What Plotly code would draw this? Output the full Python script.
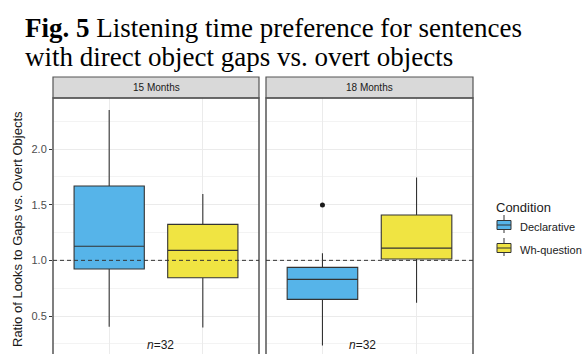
import plotly.graph_objects as go

# ---- data ----
panels = ["15 Months", "18 Months"]
conditions = ["Declarative", "Wh-question"]
colors = ["#56B4E9", "#F0E442"]
# stats per panel per condition
lowerfence = [[0.404, 0.398], [0.236, 0.619]]
q1 = [[0.922, 0.844], [0.650, 1.012]]
median = [[1.126, 1.090], [0.829, 1.110]]
q3 = [[1.668, 1.323], [0.937, 1.407]]
upperfence = [[2.350, 1.596], [1.063, 1.745]]
outlier_panel = [1]
outlier_cond = [0]
outlier_y = [1.497]
n_labels = ["n=32", "n=32"]
n_x = [1.55, 1.43]
n_y = [0.24, 0.24]
yticks = [0.5, 1.0, 1.5, 2.0]

W, H = 582, 354
OFF = 0  # body margin removed via post_script
px = lambda v: (v - OFF) / W
py = lambda v: (H - (v - OFF)) / H

x_domains = [(53, 259), (266, 473)]
plot_top, plot_bot = 98, 354
strip_top = 77
yrange = [0.159, 2.458]
BOX_LINE = "#333333"

fig = go.Figure()
for p in range(2):
    xa = "x" if p == 0 else "x2"
    ya = "y" if p == 0 else "y2"
    for c in range(2):
        fig.add_trace(go.Box(
            x=[c + 1], q1=[q1[p][c]], median=[median[p][c]], q3=[q3[p][c]],
            lowerfence=[lowerfence[p][c]], upperfence=[upperfence[p][c]],
            width=0.75, fillcolor=colors[c], line=dict(color=BOX_LINE, width=1.1),
            whiskerwidth=0, boxpoints=False, name=conditions[c],
            showlegend=False, xaxis=xa, yaxis=ya, hoverinfo="skip",
        ))
for i in range(len(outlier_y)):
    p = outlier_panel[i]
    fig.add_trace(go.Scatter(
        x=[outlier_cond[i] + 1], y=[outlier_y[i]], mode="markers",
        marker=dict(color="#1A1A1A", size=5), showlegend=False, hoverinfo="skip",
        xaxis="x" if p == 0 else "x2", yaxis="y" if p == 0 else "y2"))

ydom = [py(plot_bot), py(plot_top)]
common_x = dict(range=[0.4, 2.6], tickvals=[1, 2], showticklabels=False, ticks="",
                showgrid=True, gridcolor="#EBEBEB", gridwidth=1, zeroline=False,
                showline=False)
common_y = dict(range=yrange, showgrid=True, gridcolor="#EBEBEB", gridwidth=1,
                zeroline=False, showline=False,
                minor=dict(dtick=0.25, tick0=0.25, showgrid=True, gridcolor="#F3F3F3", gridwidth=1))

fig.update_layout(
    width=W, height=H, margin=dict(l=0, r=0, t=0, b=0, autoexpand=False),
    paper_bgcolor="white", plot_bgcolor="white",
    xaxis=dict(domain=[px(x_domains[0][0]), px(x_domains[0][1])], **common_x),
    xaxis2=dict(domain=[px(x_domains[1][0]), px(x_domains[1][1])], anchor="y2", **common_x),
    yaxis=dict(domain=ydom, tickvals=yticks, ticktext=[f"{v:.1f}" for v in yticks],
               ticks="outside", ticklen=3, tickcolor="#333333",
               tickfont=dict(family="Arial, Liberation Sans", size=11, color="#4D4D4D"),
               **common_y),
    yaxis2=dict(domain=ydom, anchor="x2", matches="y", showticklabels=False, ticks="", **common_y),
    showlegend=False,
    font=dict(family="Arial, Liberation Sans"),
)

shapes = []
annotations = []
for p in range(2):
    x0, x1 = x_domains[p]
    shapes.append(dict(type="rect", xref="paper", yref="paper", x0=px(x0), x1=px(x1),
                       y0=py(plot_top), y1=py(strip_top), fillcolor="#D9D9D9",
                       line=dict(color="#555555", width=1.2), layer="above"))
    annotations.append(dict(text=panels[p], xref="paper", yref="paper",
                            x=px((x0 + x1) / 2), y=py((plot_top + strip_top) / 2),
                            showarrow=False, font=dict(size=10, color="#1A1A1A"),
                            xanchor="center", yanchor="middle"))
    shapes.append(dict(type="rect", xref="paper", yref="paper", x0=px(x0), x1=px(x1),
                       y0=py(plot_bot + 10), y1=py(plot_top), fillcolor="rgba(0,0,0,0)",
                       line=dict(color="#555555", width=1.5), layer="above"))
    shapes.append(dict(type="line", xref="x" if p == 0 else "x2", yref="y" if p == 0 else "y2",
                       x0=0.4, x1=2.6, y0=1.0, y1=1.0,
                       line=dict(color="#333333", width=1, dash="4px,3px"), layer="above"))
    lab = n_labels[p]
    annotations.append(dict(text="<i>n</i>" + lab[1:] if lab.startswith("n") else lab,
                            xref="x" if p == 0 else "x2", yref="y" if p == 0 else "y2",
                            x=n_x[p], y=n_y[p], showarrow=False,
                            font=dict(size=12, color="#1A1A1A", family="Liberation Sans, Arial"),
                            xanchor="center", yanchor="middle"))

# manual legend (ggplot-style keys)
annotations.append(dict(text="Condition", xref="paper", yref="paper", x=px(494), y=py(207),
                        xanchor="left", yanchor="middle", showarrow=False,
                        font=dict(family="Arial, Liberation Sans", size=13, color="#1A1A1A")))
key_centers = [225, 248]
for c in range(2):
    cy = key_centers[c]
    shapes.append(dict(type="line", xref="paper", yref="paper", x0=px(504), x1=px(504),
                       y0=py(cy - 10), y1=py(cy + 8), line=dict(color=BOX_LINE, width=1)))
    shapes.append(dict(type="rect", xref="paper", yref="paper", x0=px(497), x1=px(511),
                       y0=py(cy + 4.5), y1=py(cy - 4.5), fillcolor=colors[c],
                       line=dict(color=BOX_LINE, width=1)))
    shapes.append(dict(type="line", xref="paper", yref="paper", x0=px(497), x1=px(511),
                       y0=py(cy), y1=py(cy), line=dict(color=BOX_LINE, width=1)))
    annotations.append(dict(text=conditions[c], xref="paper", yref="paper", x=px(518), y=py(cy + 1.5),
                            xanchor="left", yanchor="middle", showarrow=False,
                            font=dict(family="Arial, Liberation Sans", size=11, color="#1A1A1A")))

# title (two lines)
title_lines = ["<b>Fig. 5</b> Listening time preference for sentences",
               "with direct object gaps vs. overt objects"]
title_centers = [28, 57]
for t, cy in zip(title_lines, title_centers):
    annotations.append(dict(text=t, xref="paper", yref="paper", x=px(23), y=py(cy),
                            xanchor="left", yanchor="middle", align="left", showarrow=False,
                            font=dict(family="Liberation Serif, Times New Roman", size=27, color="black")))
# y axis title
annotations.append(dict(text="Ratio of Looks to Gaps vs. Overt Objects", xref="paper", yref="paper",
                        x=px(17), y=py(229), textangle=-90, showarrow=False,
                        xanchor="center", yanchor="middle",
                        font=dict(family="Arial, Liberation Sans", size=13, color="#1A1A1A")))

fig.update_layout(shapes=shapes, annotations=annotations)
fig.write_html("out.html", config={"displayModeBar": False},
               post_script="document.body.style.margin='0';document.body.style.overflow='hidden';")
